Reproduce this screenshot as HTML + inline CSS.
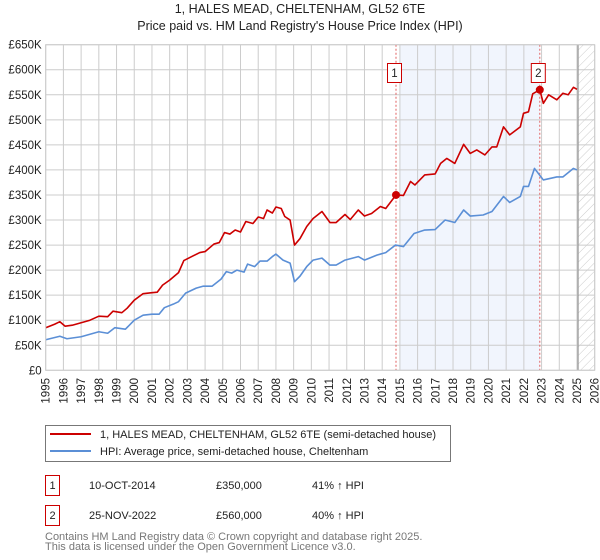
<!DOCTYPE html>
<html><head><meta charset="utf-8"><style>
body{margin:0;background:#fff;font-family:"Liberation Sans","DejaVu Sans",sans-serif;}
#wrap{position:relative;width:600px;height:560px;overflow:hidden}
</style></head><body><div id="wrap">
<svg id="chart" width="600" height="560" viewBox="0 0 600 560" font-family="'Liberation Sans','DejaVu Sans',sans-serif">
<defs><pattern id="hatch" width="6" height="6" patternUnits="userSpaceOnUse" patternTransform="rotate(45)"><line x1="0" y1="0" x2="0" y2="6" stroke="#ccc" stroke-width="1"/></pattern></defs>
<text x="300" y="13" text-anchor="middle" font-size="12.5" fill="#222">1, HALES MEAD, CHELTENHAM, GL52 6TE</text>
<text x="300" y="30" text-anchor="middle" font-size="12.5" fill="#222">Price paid vs. HM Land Registry's House Price Index (HPI)</text>
<g id="plot"></g>
<g>
<rect x="45.5" y="425.5" width="405" height="36" fill="#fff" stroke="#777"/>
<line x1="50" y1="434" x2="91" y2="434" stroke="#cc0000" stroke-width="2"/>
<text x="100" y="438" font-size="11" fill="#222">1, HALES MEAD, CHELTENHAM, GL52 6TE (semi-detached house)</text>
<line x1="50" y1="451" x2="91" y2="451" stroke="#5b8fd6" stroke-width="2"/>
<text x="100" y="455" font-size="11" fill="#222">HPI: Average price, semi-detached house, Cheltenham</text>
</g>
<g font-size="11" fill="#222">
<rect x="45.5" y="475.5" width="14" height="20" fill="#fff" stroke="#cc0000"/>
<text x="52.5" y="489" text-anchor="middle">1</text>
<text x="89" y="489">10-OCT-2014</text><text x="216" y="489">£350,000</text><text x="312" y="489">41% ↑ HPI</text>
<rect x="45.5" y="505.5" width="14" height="20" fill="#fff" stroke="#cc0000"/>
<text x="52.5" y="519" text-anchor="middle">2</text>
<text x="89" y="519">25-NOV-2022</text><text x="216" y="519">£560,000</text><text x="312" y="519">40% ↑ HPI</text>
</g>
<text x="45" y="540" font-size="11" fill="#777">Contains HM Land Registry data © Crown copyright and database right 2025.</text>
<text x="45" y="550" font-size="11" fill="#777">This data is licensed under the Open Government Licence v3.0.</text>
</svg></div>
<script>
const yTicks=[0,50,100,150,200,250,300,350,400,450,500,550,600,650];
const yearTicks=[1995,1996,1997,1998,1999,2000,2001,2002,2003,2004,2005,2006,2007,2008,2009,2010,2011,2012,2013,2014,2015,2016,2017,2018,2019,2020,2021,2022,2023,2024,2025,2026];
const propT=[1995,1995.5,1995.8,1996.1,1996.5,1997,1997.5,1998,1998.5,1998.8,1999.3,1999.6,2000,2000.5,2001,2001.3,2001.6,2002,2002.5,2002.8,2003.3,2003.7,2004,2004.5,2004.8,2005.1,2005.4,2005.7,2006,2006.3,2006.7,2007,2007.3,2007.5,2007.8,2008,2008.3,2008.5,2008.8,2009.05,2009.36,2009.74,2010.1,2010.6,2011.05,2011.4,2011.9,2012.2,2012.65,2013,2013.4,2013.9,2014.2,2014.78,2015.2,2015.6,2015.85,2016.4,2016.99,2017.3,2017.65,2018.1,2018.6,2018.97,2019.34,2019.8,2020.2,2020.47,2020.85,2021.2,2021.8,2021.98,2022.26,2022.5,2022.9,2023.1,2023.4,2023.86,2024.2,2024.5,2024.8,2025.0];
const propV=[85,92,97,88,90,95,100,108,107,118,115,124,140,153,155,156,170,180,195,219,228,235,237,252,255,275,272,280,276,297,293,306,303,320,314,326,323,307,300,250,263,287,303,317,295,295,311,301,320,308,313,327,323,350,349,377,370,390,392,413,423,413,451,433,440,430,446,446,486,470,486,513,516,552,560,533,550,540,553,550,565,561];
const hpiT=[1995,1995.8,1996.2,1997,1998,1998.5,1998.9,1999.5,2000,2000.5,2001,2001.4,2001.7,2002.2,2002.5,2002.9,2003.5,2003.9,2004.4,2004.9,2005.2,2005.5,2005.8,2006.2,2006.4,2006.8,2007.1,2007.5,2007.8,2008,2008.4,2008.8,2009.05,2009.36,2009.74,2010.1,2010.6,2011.05,2011.4,2011.9,2012.65,2013,2013.7,2014.2,2014.75,2015.2,2015.8,2016.4,2016.99,2017.55,2018.1,2018.6,2018.97,2019.7,2020.2,2020.85,2021.2,2021.8,2021.98,2022.26,2022.6,2023.1,2023.86,2024.2,2024.8,2025.0];
const hpiV=[61,68,63,67,77,74,85,82,100,110,112,112,125,132,137,154,164,168,168,182,197,194,200,196,212,207,218,218,227,232,220,214,177,188,207,220,224,210,210,220,227,220,230,235,250,247,273,280,281,300,295,320,308,310,317,347,335,347,367,367,403,380,386,386,403,400];
const saleT=[2014.78,2022.9];
const saleV=[350,560];
const saleLabels=["1","2"];
const X0=45.7,X1=594.7,Y0=370.3,Y1=44.7;
const x=t=>X0+(t-1995)/(2026-1995)*(X1-X0);
const y=v=>Y0-v/650*(Y0-Y1);
const NS="http://www.w3.org/2000/svg";
const g=document.getElementById('plot');
function mk(tag,attrs,parent){const e=document.createElementNS(NS,tag);for(const k in attrs)e.setAttribute(k,attrs[k]);(parent||g).appendChild(e);return e;}
let r=mk('rect',{x:x(2015),y:Y1,width:x(saleT[1])-x(2015),height:Y0-Y1,fill:'#eef3fc',opacity:0.8});


r=mk('rect',{x:x(2025.06),y:Y1,width:X1-x(2025.06),height:Y0-Y1,fill:'url(#hatch)'});


yTicks.forEach(v=>{
 const l=mk('line',{x1:X0,x2:X1,y1:y(v),y2:y(v),stroke:'#ccc','stroke-width':1});
 
 
 const t=mk('text',{x:X0-4,y:y(v)+4,'text-anchor':'end','font-size':11.5,fill:'#222'});
 t.textContent=v===0?'£0':'£'+v+'K';
 
 
});
yearTicks.forEach(yr=>{
 const l=mk('line',{x1:x(yr),x2:x(yr),y1:Y1,y2:Y0,stroke:'#ccc','stroke-width':1});
 
 
 const t=mk('text',{x:0,y:0,'text-anchor':'end','font-size':11.5,fill:'#222',transform:`translate(${x(yr)+4},378) rotate(-90)`});
 t.textContent=yr;
 
 
});
let vl=mk('line',{x1:x(2025.06),x2:x(2025.06),y1:Y1,y2:Y0,stroke:'#999','stroke-width':1.2});


saleT.forEach((t,i)=>{
 const l=mk('line',{x1:x(t),x2:x(t),y1:Y1,y2:Y0,stroke:'#e06060','stroke-width':1,'stroke-dasharray':'2,2'});
 
 
});
function line(T,V,col,name){
 const p=mk('polyline',{points:T.map((t,i)=>x(t)+','+y(V[i])).join(' '),fill:'none',stroke:col,'stroke-width':1.6,'stroke-linejoin':'round'});
 
 
}
line(hpiT,hpiV,'#5b8fd6','hpi-line');
line(propT,propV,'#cc0000','property-price-line');
saleT.forEach((t,i)=>{
 const c=mk('circle',{cx:x(t),cy:y(saleV[i]),r:4,fill:'#cc0000'});
 
 
 const b=mk('rect',{x:x(t)-8.5,y:63.5,width:14,height:19,fill:'#fff',stroke:'#cc0000'});
 
 
 const tx=mk('text',{x:x(t)-1.5,y:77,'text-anchor':'middle','font-size':11.5,fill:'#222'});
 tx.textContent=saleLabels[i];
 
 
});
let br=mk('rect',{x:X0,y:Y1,width:X1-X0,height:Y0-Y1,fill:'none',stroke:'#ccc'});


</script></body></html>
